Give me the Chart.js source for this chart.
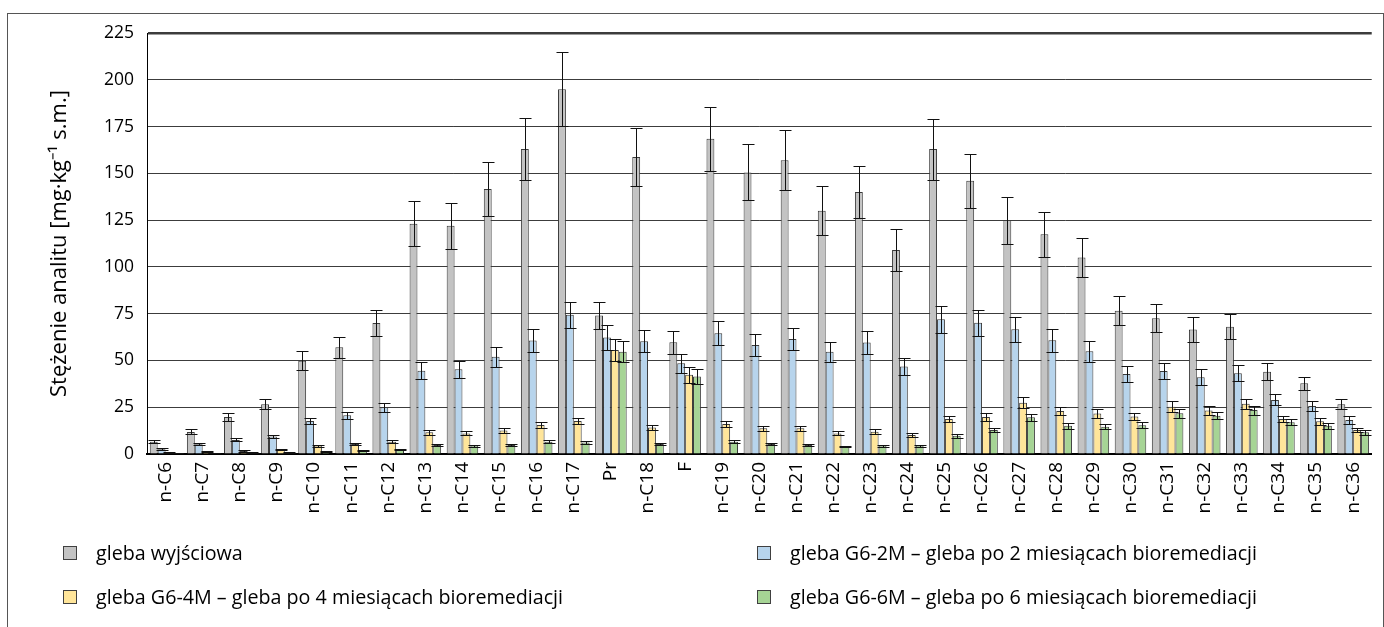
<!DOCTYPE html>
<html lang="pl">
<head>
<meta charset="utf-8">
<script src="https://cdn.jsdelivr.net/npm/chart.js@4/dist/chart.umd.min.js"></script>
<style>
    html, body {
        margin: 0;
        padding: 0;
        background: #fff;
        width: 1384px;
        height: 627px;
        overflow: hidden;
        font-family: "Open Sans", sans-serif;
    }
    #frame {
        position: absolute;
        left: 7px;
        top: 13px;
        width: 1375px;
        height: 700px;
        border: 1px solid #555;
        border-bottom: none;
    }
    #wrap {
        position: absolute;
        left: 0;
        top: 0;
        width: 1384px;
        height: 627px;
    }
    .legend-item {
        position: absolute;
        display: flex;
        align-items: center;
        font-size: 19.7px;
        color: #000;
        white-space: nowrap;
    }
    .legend-box {
        width: 12px;
        height: 12px;
        border: 1px solid #404040;
        margin-right: 19px;
    }
</style>
</head>
<body>
<div id="frame"></div>
<div id="wrap"><canvas id="chart" width="1384" height="627"></canvas></div>
<div id="legend"></div>
<script>
// 分类标签
const labels = [
    'n-C6', 'n-C7', 'n-C8', 'n-C9', 'n-C10', 'n-C11', 'n-C12', 'n-C13', 'n-C14',
    'n-C15', 'n-C16', 'n-C17', 'Pr', 'n-C18', 'F', 'n-C19', 'n-C20', 'n-C21',
    'n-C22', 'n-C23', 'n-C24', 'n-C25', 'n-C26', 'n-C27', 'n-C28', 'n-C29',
    'n-C30', 'n-C31', 'n-C32', 'n-C33', 'n-C34', 'n-C35', 'n-C36'
];

// 各系列数值与误差
const glebaStart = [6.6, 11.8, 19.8, 26.6, 49.8, 57, 70, 123, 122, 141.6, 163, 195, 74, 158.7, 59.7,
    168.5, 150.5, 157, 130, 140, 109, 163, 146, 125, 117.5, 105, 76.5, 72.6, 66.5, 68, 44, 37.8, 26.6];
const glebaStartErr = [0.8, 1.3, 2.2, 2.8, 5, 5.7, 7, 12, 12.3, 14.3, 16.4, 19.6, 7.2, 15.7, 6,
    17, 15, 16, 13, 14, 11, 16.3, 14.4, 12.5, 12, 10.5, 7.7, 7.3, 6.6, 6.8, 4.4, 3.6, 2.6];

const gleba2M = [2.5, 5.2, 7.5, 9.3, 17.7, 20.7, 25, 44.5, 45.3, 52, 60.6, 74.4, 62.2, 60.3, 48.5,
    64.6, 58.3, 61.4, 54.6, 59.6, 46.7, 72, 70.2, 66.7, 60.8, 54.9, 42.8, 44.4, 41, 43.2, 28.9, 25.7, 18.2];
const gleba2MErr = [0.5, 0.6, 0.8, 1, 1.8, 2, 2.5, 4.5, 4.5, 5.3, 6, 7, 6.5, 6, 5,
    6.6, 5.8, 6, 5.3, 5.9, 4.7, 7.3, 7, 6.6, 6.2, 5.7, 4.1, 4.5, 4.2, 4.3, 2.9, 2.5, 1.9];

const gleba4M = [1.0, 1.2, 1.6, 2.3, 4.5, 5.4, 6.6, 11.6, 11, 12.5, 15.5, 17.7, 55.6, 14.1, 42.3,
    16, 13.7, 13.7, 11, 11.9, 10.2, 18.7, 19.8, 27.4, 23, 21.6, 20, 25.3, 23.2, 26.8, 18.7, 17.5, 12.8];
const gleba4MErr = [0.2, 0.2, 0.3, 0.3, 0.5, 0.6, 0.7, 1.2, 1.1, 1.3, 1.6, 1.8, 5.8, 1.4, 4.4,
    1.6, 1.4, 1.4, 1.1, 1.2, 1.0, 1.8, 2, 2.9, 2.3, 2.2, 2, 2.8, 2.3, 2.8, 1.8, 1.8, 1.3];

const gleba6M = [0.5, 0.6, 0.8, 0.8, 1.4, 2.0, 2.5, 4.8, 4.5, 4.8, 6.6, 6.2, 54.7, 5.4, 41.4,
    6.6, 5.4, 4.8, 3.9, 4.5, 4.5, 9.8, 12.8, 19.6, 15.1, 14.6, 15.4, 21.8, 20.5, 23.5, 17, 15.1, 11.6];
const gleba6MErr = [0.1, 0.1, 0.1, 0.1, 0.2, 0.3, 0.3, 0.5, 0.5, 0.5, 0.7, 0.6, 5.7, 0.5, 4,
    0.7, 0.5, 0.5, 0.4, 0.5, 0.5, 1, 1.3, 2, 1.5, 1.5, 1.5, 2.4, 2, 2.4, 1.6, 1.6, 1.2];

const yTicks = [0, 25, 50, 75, 100, 125, 150, 175, 200, 225];

const series = [
    { label: 'gleba wyjściowa', data: glebaStart, err: glebaStartErr, color: '#c3c3c3' },
    { label: 'gleba G6-2M – gleba po 2 miesiącach bioremediacji', data: gleba2M, err: gleba2MErr, color: '#b7d4ec' },
    { label: 'gleba G6-4M – gleba po 4 miesiącach bioremediacji', data: gleba4M, err: gleba4MErr, color: '#ffe59a' },
    { label: 'gleba G6-6M – gleba po 6 miesiącach bioremediacji', data: gleba6M, err: gleba6MErr, color: '#a6d495' }
];

// 误差线插件
const errorBarPlugin = {
    id: 'errorBars',
    afterDatasetsDraw(chart) {
        const ctx = chart.ctx;
        const y = chart.scales.y;
        ctx.save();
        ctx.strokeStyle = '#111';
        ctx.lineWidth = 1;
        chart.data.datasets.forEach((ds, i) => {
            const meta = chart.getDatasetMeta(i);
            meta.data.forEach((bar, j) => {
                const v = ds.data[j];
                const e = ds.errors[j];
                const x = Math.round(bar.x) + 0.5;
                const top = Math.round(y.getPixelForValue(v + e)) + 0.5;
                const bot = Math.round(y.getPixelForValue(Math.max(v - e, 0))) + 0.5;
                const half = 6;
                ctx.beginPath();
                ctx.moveTo(x, top);
                ctx.lineTo(x, bot);
                ctx.moveTo(x - half, top);
                ctx.lineTo(x + half, top);
                ctx.moveTo(x - half, bot);
                ctx.lineTo(x + half, bot);
                ctx.stroke();
            });
        });
        ctx.restore();
    }
};

const ctx = document.getElementById('chart');
new Chart(ctx, {
    type: 'bar',
    data: {
        labels: labels,
        datasets: series.map(s => ({
            label: s.label,
            data: s.data,
            errors: s.err,
            backgroundColor: s.color,
            borderColor: '#3a3a3a',
            borderWidth: 1,
            categoryPercentage: 0.85,
            barPercentage: 1.0
        }))
    },
    options: {
        responsive: false,
        animation: false,
        devicePixelRatio: 1,
        layout: {
            padding: { top: 33, right: 2, left: 0, bottom: 0 }
        },
        plugins: {
            legend: { display: false },
            tooltip: { enabled: false }
        },
        scales: {
            x: {
                afterFit(scale) { scale.height = 173; },
                grid: { display: false, drawTicks: false },
                border: { color: '#000', width: 2 },
                ticks: {
                    minRotation: 90,
                    maxRotation: 90,
                    autoSkip: false,
                    padding: 8,
                    color: '#000',
                    font: { family: 'Open Sans', size: 19 }
                }
            },
            y: {
                min: 0,
                max: 225,
                afterFit(scale) { scale.width = 147; },
                afterBuildTicks(scale) { scale.ticks = yTicks.map(v => ({ value: v })); },
                grid: {
                    drawTicks: false,
                    color: '#3c3c3c',
                    lineWidth: c => (c.tick && c.tick.value === 225 ? 2.5 : 1)
                },
                border: { color: '#000', width: 1 },
                ticks: {
                    padding: 13,
                    color: '#000',
                    font: { family: 'Open Sans', size: 17.5 }
                },
                title: {
                    display: true,
                    text: 'Stężenie analitu [mg·kg⁻¹ s.m.]',
                    color: '#000',
                    font: { family: 'Open Sans', size: 22 },
                    padding: { top: 47, bottom: 0 }
                }
            }
        }
    },
    plugins: [errorBarPlugin]
});

// 图例（两列）
const legendPos = [
    { left: 63, top: 539 },
    { left: 757, top: 539 },
    { left: 63, top: 583 },
    { left: 757, top: 583 }
];
const legend = document.getElementById('legend');
legend.innerHTML = series.map((s, i) => `
    <div class="legend-item" style="left:${legendPos[i].left}px;top:${legendPos[i].top}px">
        <span class="legend-box" style="background:${s.color}"></span>
        <span>${s.label}</span>
    </div>
`).join('');
</script>
</body>
</html>
